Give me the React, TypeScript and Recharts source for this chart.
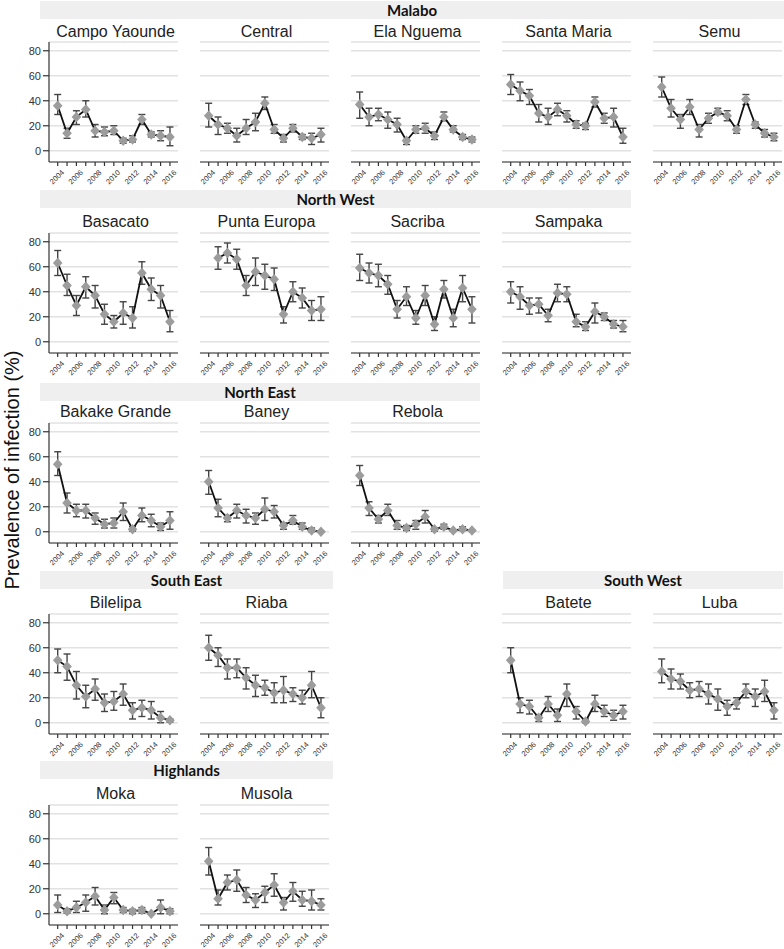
import React from "react";
import { LineChart, Line, XAxis, YAxis, CartesianGrid, ErrorBar } from "recharts";

const YEARS = [2004, 2005, 2006, 2007, 2008, 2009, 2010, 2011, 2012, 2013, 2014, 2015, 2016];
const Y_TICKS = [0, 20, 40, 60, 80];

// Malabo
const campoYaoundeEst = [36, 14, 27, 33, 16, 15, 16, 8, 9, 25, 13, 12, 11];
const campoYaoundeLo = [29, 10, 21, 27, 11, 12, 13, 6, 7, 21, 11, 8, 4];
const campoYaoundeHi = [45, 18, 32, 40, 21, 19, 20, 10, 12, 29, 15, 16, 19];

const centralEst = [28, 21, 18, 12, 18, 23, 38, 17, 10, 18, 11, 10, 13];
const centralLo = [19, 13, 14, 7, 13, 16, 33, 14, 7, 15, 9, 5, 7];
const centralHi = [38, 27, 22, 18, 25, 30, 43, 21, 13, 21, 13, 14, 18];

const elaNguemaEst = [37, 27, 29, 25, 21, 8, 17, 18, 12, 27, 17, 11, 9];
const elaNguemaLo = [26, 20, 24, 18, 15, 5, 14, 14, 9, 24, 15, 9, 7];
const elaNguemaHi = [47, 34, 34, 31, 26, 9, 20, 22, 15, 31, 20, 13, 11];

const santaMariaEst = [53, 48, 44, 30, 27, 33, 28, 21, 20, 39, 26, 27, 11];
const santaMariaLo = [45, 40, 37, 23, 21, 28, 23, 18, 17, 35, 22, 19, 6];
const santaMariaHi = [61, 55, 49, 37, 34, 38, 32, 24, 22, 43, 30, 34, 18];

const semuEst = [51, 34, 25, 35, 17, 26, 31, 28, 17, 41, 21, 14, 11];
const semuLo = [43, 27, 18, 29, 11, 22, 29, 24, 14, 37, 18, 11, 8];
const semuHi = [59, 41, 29, 41, 21, 30, 34, 32, 20, 45, 23, 17, 14];

// North West
const basacatoEst = [63, 45, 29, 44, 37, 22, 16, 23, 19, 55, 42, 37, 16];
const basacatoLo = [53, 37, 21, 35, 27, 14, 11, 14, 11, 46, 33, 27, 8];
const basacatoHi = [73, 54, 37, 52, 45, 30, 21, 32, 28, 64, 51, 45, 25];

const puntaEuropaEst = [null, 67, 71, 66, 45, 56, 53, 50, 22, 40, 35, 25, 26];
const puntaEuropaLo = [null, 58, 63, 58, 37, 45, 42, 41, 15, 32, 27, 17, 17];
const puntaEuropaHi = [null, 76, 79, 74, 53, 67, 62, 59, 28, 48, 43, 33, 36];

const sacribaEst = [59, 55, 53, 46, 26, 36, 19, 37, 14, 42, 19, 43, 26];
const sacribaLo = [49, 47, 44, 38, 19, 29, 14, 29, 9, 35, 12, 32, 15];
const sacribaHi = [70, 63, 62, 53, 33, 44, 25, 45, 20, 49, 26, 53, 36];

const sampakaEst = [40, 36, 29, 30, 21, 39, 38, 16, 12, 24, 20, 14, 12];
const sampakaLo = [31, 26, 22, 23, 16, 32, 32, 12, 9, 15, 17, 11, 8];
const sampakaHi = [48, 44, 35, 35, 26, 46, 44, 22, 16, 31, 23, 17, 17];

// North East
const bakakeGrandeEst = [54, 23, 17, 17, 11, 6, 7, 16, 2, 13, 9, 4, 9];
const bakakeGrandeLo = [45, 15, 12, 11, 6, 3, 3, 9, 0.5, 8, 4, 1, 2];
const bakakeGrandeHi = [64, 31, 22, 22, 15, 10, 11, 23, 4, 19, 14, 7, 16];

const baneyEst = [40, 19, 11, 17, 13, 11, 18, 16, 5, 9, 4, 1, 0];
const baneyLo = [30, 12, 8, 11, 7, 6, 9, 11, 2, 6, 2, 0, 0];
const baneyHi = [49, 26, 13, 22, 18, 15, 27, 21, 7, 13, 7, 3, 0.5];

const rebolaEst = [45, 19, 10, 17, 5, 3, 6, 12, 2, 4, 1, 2, 1];
const rebolaLo = [37, 13, 7, 13, 2, 1, 2, 7, 0.5, 2, 0.5, 1, 0.5];
const rebolaHi = [53, 24, 13, 22, 9, 5, 9, 17, 3, 6, 1.5, 4, 1.5];

// South East
const bilelipaEst = [50, 45, 30, 21, 27, 16, 17, 23, 10, 12, 10, 4, 2];
const bilelipaLo = [40, 34, 19, 12, 18, 9, 10, 14, 3, 5, 3, 0, 0.5];
const bilelipaHi = [59, 55, 41, 30, 35, 23, 25, 31, 16, 18, 17, 9, 3];

const riabaEst = [60, 54, 44, 44, 36, 30, 28, 24, 26, 23, 20, 30, 12];
const riabaLo = [50, 45, 35, 36, 27, 21, 22, 16, 16, 17, 15, 20, 4];
const riabaHi = [70, 60, 51, 51, 44, 38, 34, 32, 37, 28, 26, 41, 20];

// South West
const bateteEst = [50, 15, 13, 4, 15, 6, 23, 9, 1, 15, 9, 6, 9];
const bateteLo = [40, 8, 7, 1, 9, 1, 13, 3, 0, 9, 5, 2, 3];
const bateteHi = [60, 20, 18, 6, 21, 11, 31, 13, 3, 22, 14, 10, 14];

const lubaEst = [41, 35, 33, 26, 27, 23, 19, 13, 16, 25, 21, 25, 10];
const lubaLo = [32, 27, 27, 20, 21, 15, 10, 6, 11, 20, 13, 17, 3];
const lubaHi = [51, 43, 39, 32, 33, 31, 27, 18, 20, 31, 27, 34, 16];

// Highlands
const mokaEst = [7, 2, 5, 9, 14, 3, 13, 3, 2, 3, 0, 5, 2];
const mokaLo = [1, 0.5, 1, 2, 7, 0, 8, 1, 0, 0.5, 0, 0, 0];
const mokaHi = [15, 4, 10, 15, 21, 7, 17, 5, 3.5, 5, 0.5, 11, 4];

const musolaEst = [42, 12, 25, 27, 15, 11, 17, 23, 9, 18, 11, 10, 7];
const musolaLo = [31, 7, 19, 18, 9, 5, 9, 14, 3, 10, 6, 3, 3];
const musolaHi = [53, 19, 31, 35, 21, 16, 22, 32, 13, 25, 18, 19, 12];

type Site = { name: string; est: (number | null)[]; lo: (number | null)[]; hi: (number | null)[]; row: number; col: number };

const SITES: Site[] = [
  { name: "Campo Yaounde", est: campoYaoundeEst, lo: campoYaoundeLo, hi: campoYaoundeHi, row: 0, col: 0 },
  { name: "Central", est: centralEst, lo: centralLo, hi: centralHi, row: 0, col: 1 },
  { name: "Ela Nguema", est: elaNguemaEst, lo: elaNguemaLo, hi: elaNguemaHi, row: 0, col: 2 },
  { name: "Santa Maria", est: santaMariaEst, lo: santaMariaLo, hi: santaMariaHi, row: 0, col: 3 },
  { name: "Semu", est: semuEst, lo: semuLo, hi: semuHi, row: 0, col: 4 },
  { name: "Basacato", est: basacatoEst, lo: basacatoLo, hi: basacatoHi, row: 1, col: 0 },
  { name: "Punta Europa", est: puntaEuropaEst, lo: puntaEuropaLo, hi: puntaEuropaHi, row: 1, col: 1 },
  { name: "Sacriba", est: sacribaEst, lo: sacribaLo, hi: sacribaHi, row: 1, col: 2 },
  { name: "Sampaka", est: sampakaEst, lo: sampakaLo, hi: sampakaHi, row: 1, col: 3 },
  { name: "Bakake Grande", est: bakakeGrandeEst, lo: bakakeGrandeLo, hi: bakakeGrandeHi, row: 2, col: 0 },
  { name: "Baney", est: baneyEst, lo: baneyLo, hi: baneyHi, row: 2, col: 1 },
  { name: "Rebola", est: rebolaEst, lo: rebolaLo, hi: rebolaHi, row: 2, col: 2 },
  { name: "Bilelipa", est: bilelipaEst, lo: bilelipaLo, hi: bilelipaHi, row: 3, col: 0 },
  { name: "Riaba", est: riabaEst, lo: riabaLo, hi: riabaHi, row: 3, col: 1 },
  { name: "Batete", est: bateteEst, lo: bateteLo, hi: bateteHi, row: 3, col: 3 },
  { name: "Luba", est: lubaEst, lo: lubaLo, hi: lubaHi, row: 3, col: 4 },
  { name: "Moka", est: mokaEst, lo: mokaLo, hi: mokaHi, row: 4, col: 0 },
  { name: "Musola", est: musolaEst, lo: musolaLo, hi: musolaHi, row: 4, col: 1 },
];

// region header bands: [label, left, right, top]
const REGIONS: [string, number, number, number][] = [
  ["Malabo", 40, 784, 1],
  ["North West", 40, 631, 190],
  ["North East", 40, 480, 383],
  ["South East", 40, 333, 571],
  ["South West", 503, 783, 571],
  ["Highlands", 40, 333, 761],
];

const ROW_PLOT_TOP = [42, 233, 423, 614, 804.5];
const ROW_TITLE_Y = [32, 222, 412, 603, 794];
const PITCH = 151;
const PLOT_W = 129;
const PLOT_H = 120;
const PAD_L = 40;
const PAD_T = 30;
const FONT = "'Liberation Sans', Arial, sans-serif";

function YearTick(props: any) {
  const { x, y, payload } = props;
  if (payload.value % 2 !== 0) return <g />;
  const ax = x + 3;
  const ay = y + 1;
  return (
    <text
      x={ax}
      y={ay}
      transform={`rotate(-45 ${ax} ${ay})`}
      textAnchor="end"
      dominantBaseline="hanging"
      fontSize={7.5}
      fontFamily={FONT}
      fill="#333"
    >
      {payload.value}
    </text>
  );
}

function Diamond(props: any) {
  const { cx, cy, index } = props;
  if (cx == null || cy == null) return <g key={index} />;
  const w = 4.8;
  const h = 5.2;
  return (
    <path
      key={index}
      d={`M${cx},${cy - h}L${cx + w},${cy}L${cx},${cy + h}L${cx - w},${cy}Z`}
      fill="#9c9c9c"
    />
  );
}

function Panel({ site }: { site: Site }) {
  const data = YEARS.map((year, i) => ({
    year,
    est: site.est[i],
    err: site.est[i] == null ? null : [(site.est[i] as number) - (site.lo[i] as number), (site.hi[i] as number) - (site.est[i] as number)],
  })).filter((d) => d.est != null);
  const plotLeft = 49 + PITCH * site.col;
  const first = site.col === 0;
  return (
    <div style={{ position: "absolute", left: plotLeft - PAD_L, top: ROW_PLOT_TOP[site.row] - PAD_T }}>
      <LineChart
        width={PAD_L + PLOT_W + 4}
        height={PAD_T + PLOT_H + 34}
        data={data}
        margin={{ top: PAD_T, right: 4, bottom: 0, left: first ? 0 : PAD_L }}
      >
        <CartesianGrid vertical={false} stroke="#e2e2e2" strokeWidth={1.5} />
        <XAxis
          type="number"
          dataKey="year"
          domain={[2003.07, 2016.86]}
          allowDataOverflow
          ticks={YEARS}
          interval={0}
          tickSize={4}
          tickLine={{ stroke: "#333", strokeWidth: 1.2 }}
          axisLine={{ stroke: "#333", strokeWidth: 1.2 }}
          tick={<YearTick />}
          height={34}
        />
        <YAxis
          type="number"
          domain={[-9, 87]}
          allowDataOverflow
          ticks={Y_TICKS}
          interval={0}
          hide={!first}
          width={PAD_L}
          tickSize={6}
          tickMargin={2}
          tickLine={{ stroke: "#333", strokeWidth: 1.2 }}
          axisLine={{ stroke: "#333", strokeWidth: 1.2 }}
          tick={{ fontSize: 11, fill: "#333", fontFamily: FONT }}
        />
        <Line
          dataKey="est"
          stroke="#111"
          strokeWidth={1.8}
          dot={Diamond}
          activeDot={false}
          isAnimationActive={false}
        >
          <ErrorBar dataKey="err" direction="y" width={3.5} stroke="#444" strokeWidth={1.4} />
        </Line>
      </LineChart>
    </div>
  );
}

export default function App() {
  return (
    <div style={{ position: "absolute", left: 0, top: 0, width: 784, height: 949, background: "#fff", fontFamily: FONT }}>
      {REGIONS.map(([label, l, r, t]) => (
        <div
          key={label}
          style={{
            position: "absolute",
            left: l,
            top: t,
            width: r - l,
            height: 18,
            lineHeight: "18px",
            background: "#efefef",
            textAlign: "center",
            fontFamily: "Lato, 'Open Sans', sans-serif",
            fontWeight: 700,
            fontSize: 15,
            color: "#111",
          }}
        >
          {label}
        </div>
      ))}
      {SITES.map((s) => (
        <div
          key={"t" + s.name}
          style={{
            position: "absolute",
            left: 49 + PITCH * s.col - 9,
            top: ROW_TITLE_Y[s.row] - 10,
            width: PITCH,
            height: 20,
            lineHeight: "20px",
            textAlign: "center",
            fontSize: 16,
            color: "#222",
          }}
        >
          {s.name}
        </div>
      ))}
      {SITES.map((s) => (
        <Panel key={s.name} site={s} />
      ))}
      <svg style={{ position: "absolute", left: 0, top: 0 }} width={32} height={949}>
        <text
          x={19}
          y={470}
          transform="rotate(-90 19 470)"
          textAnchor="middle"
          fontSize={20}
          fontFamily={FONT}
          fill="#111"
        >
          Prevalence of infection (%)
        </text>
      </svg>
    </div>
  );
}
